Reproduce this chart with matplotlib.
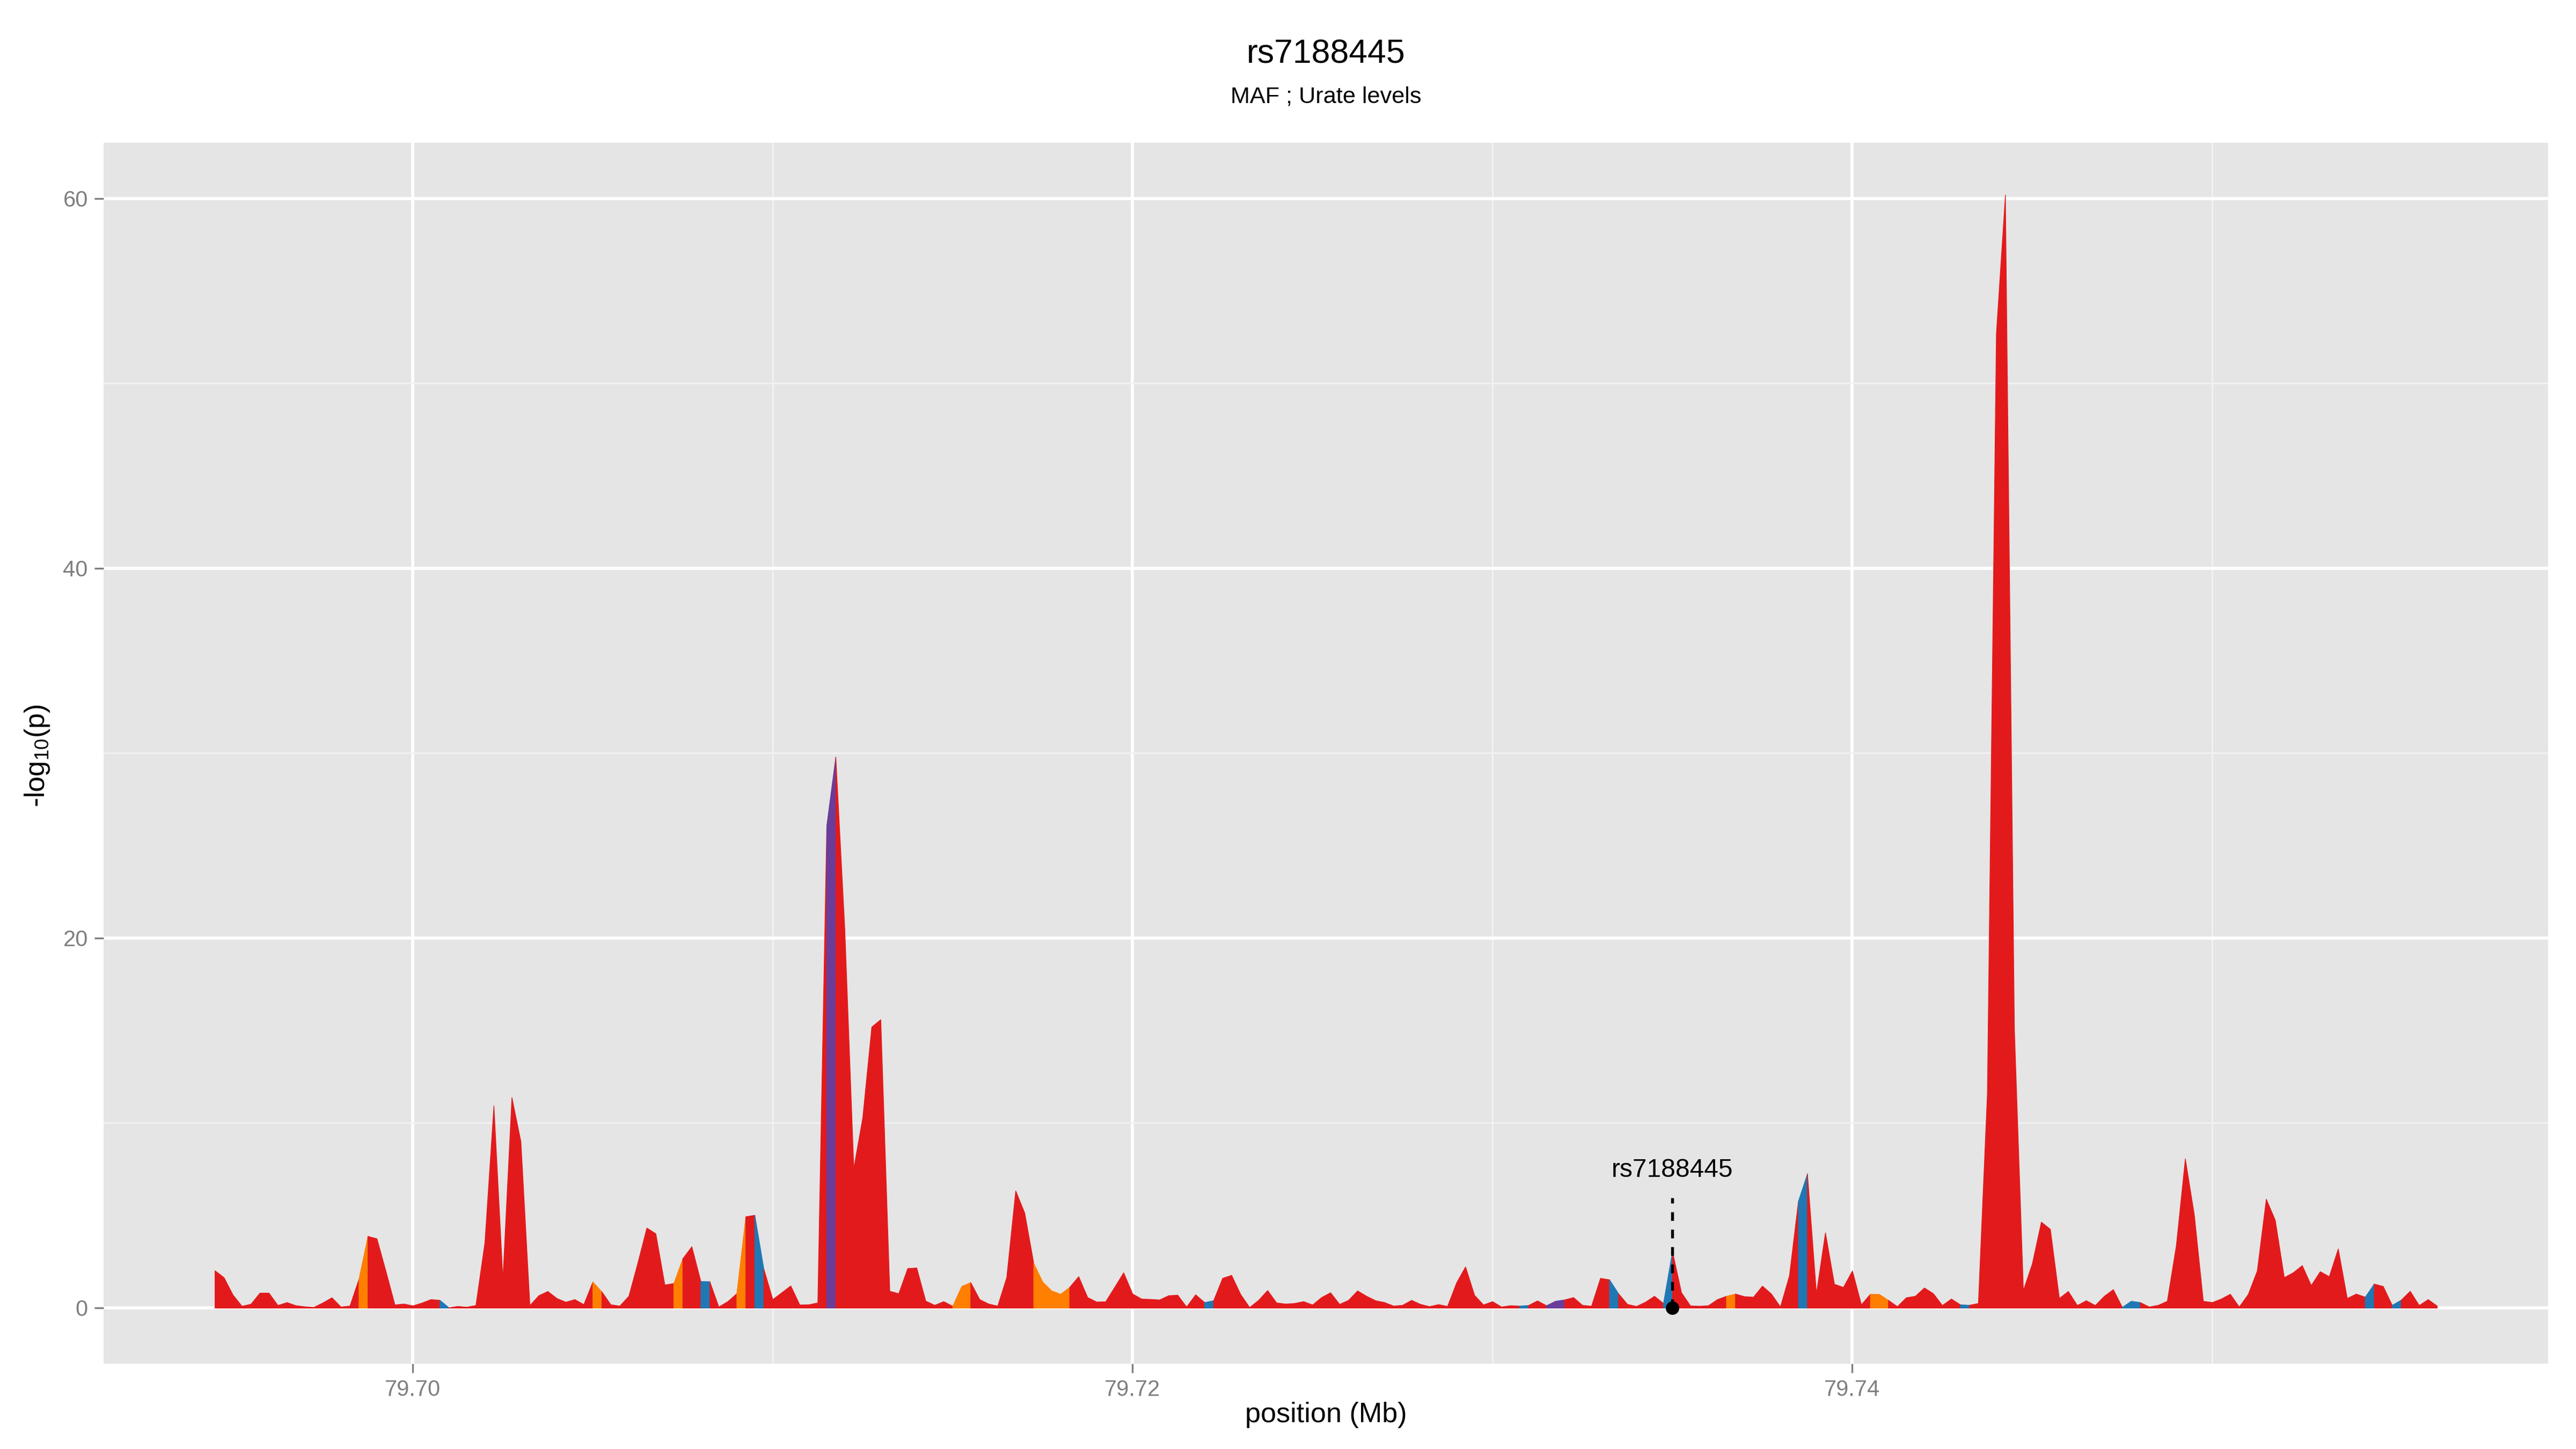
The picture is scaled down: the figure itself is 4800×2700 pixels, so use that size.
import numpy as np
import matplotlib
matplotlib.use("Agg")
import matplotlib.pyplot as plt

plt.rcParams['font.family'] = ['Liberation Sans', 'DejaVu Sans']
plt.rcParams['mathtext.default'] = 'regular'

# positions in bp, one SNP every 250 bp
pos_bp = np.arange(79694500, 79756251, 250)
pos = pos_bp / 1e6

# -log10(p) per SNP
logp = [2.02, 1.65, 0.71, 0.10, 0.21, 0.81, 0.81, 0.14, 0.30, 0.13,
        0.07, 0.04, 0.28, 0.56, 0.06, 0.11, 1.56, 3.88, 3.75, 1.99,
        0.17, 0.22, 0.12, 0.27, 0.46, 0.42, 0.02, 0.09, 0.05, 0.14,
        3.54, 10.94, 1.56, 11.39, 9.00, 0.14, 0.67, 0.90, 0.52, 0.32,
        0.46, 0.19, 1.41, 0.88, 0.18, 0.11, 0.64, 2.43, 4.33, 4.02,
        1.25, 1.33, 2.67, 3.32, 1.44, 1.43, 0.06, 0.35, 0.78, 4.94,
        5.02, 2.12, 0.46, 0.83, 1.20, 0.17, 0.18, 0.28, 26.1, 29.8,
        20.5, 7.55, 10.3, 15.2, 15.6, 0.91, 0.78, 2.14, 2.17, 0.38,
        0.15, 0.35, 0.10, 1.17, 1.38, 0.46, 0.22, 0.11, 1.65, 6.34,
        5.14, 2.43, 1.41, 0.93, 0.75, 1.12, 1.70, 0.57, 0.33, 0.34,
        1.12, 1.91, 0.76, 0.49, 0.47, 0.44, 0.67, 0.70, 0.06, 0.72,
        0.30, 0.40, 1.61, 1.77, 0.74, 0.03, 0.42, 0.95, 0.28, 0.22,
        0.25, 0.35, 0.17, 0.57, 0.83, 0.20, 0.42, 0.93, 0.64, 0.40,
        0.30, 0.11, 0.15, 0.42, 0.20, 0.08, 0.19, 0.09, 1.36, 2.23,
        0.69, 0.17, 0.35, 0.06, 0.13, 0.11, 0.14, 0.39, 0.13, 0.37,
        0.44, 0.57, 0.15, 0.10, 1.61, 1.53, 0.78, 0.20, 0.09, 0.32,
        0.64, 0.25, 3.06, 0.83, 0.12, 0.10, 0.13, 0.46, 0.64, 0.76,
        0.62, 0.59, 1.19, 0.76, 0.06, 1.75, 5.78, 7.26, 0.78, 4.07,
        1.29, 1.12, 2.01, 0.18, 0.75, 0.74, 0.42, 0.08, 0.56, 0.64,
        1.09, 0.78, 0.14, 0.49, 0.18, 0.15, 0.25, 11.6, 52.7, 60.2,
        15.1, 0.95, 2.40, 4.65, 4.26, 0.52, 0.90, 0.14, 0.40, 0.14,
        0.64, 1.00, 0.04, 0.37, 0.30, 0.06, 0.15, 0.37, 3.37, 8.07,
        5.04, 0.37, 0.30, 0.49, 0.75, 0.06, 0.74, 2.01, 5.89, 4.75,
        1.65, 1.91, 2.30, 1.22, 1.97, 1.70, 3.20, 0.52, 0.76, 0.59,
        1.30, 1.17, 0.15, 0.43, 0.91, 0.14, 0.46, 0.11]

# segments (between SNP i and i+1) that are not in the red class
orange_segs = [16, 42, 51, 58, 82, 83, 91, 92, 93, 94, 168, 184, 185]
blue_segs = [25, 54, 60, 110, 145, 155, 161, 176, 194, 212, 213, 239, 242]
purple_segs = [68, 148, 149]

snp_name = "rs7188445"
snp_idx = 162
title = "rs7188445"
subtitle = "MAF ; Urate levels"

RED, ORANGE, BLUE, PURPLE = "#E31A1C", "#FF7F00", "#1F78B4", "#6A3D9A"

y = np.array(logp)
seg_col = [RED] * (len(pos) - 1)
for s in orange_segs:
    seg_col[s] = ORANGE
for s in blue_segs:
    seg_col[s] = BLUE
for s in purple_segs:
    seg_col[s] = PURPLE

fig = plt.figure(figsize=(16, 9), dpi=300)
ax = fig.add_axes([0.0402, 0.0589, 0.9490, 0.8426])
ax.set_facecolor("#E5E5E5")

# draw runs of same colour as one polygon
start = 0
for i in range(1, len(seg_col) + 1):
    if i == len(seg_col) or seg_col[i] != seg_col[start]:
        ax.fill_between(pos[start:i + 1], 0, y[start:i + 1], color=seg_col[start],
                        linewidth=0.3, edgecolor=seg_col[start], zorder=3)
        start = i

# marker for the lead snp
xs = pos[snp_idx]
ax.plot([xs, xs], [0, 5.95], color="black", lw=1.3, ls=(0, (3, 3)), zorder=5)
ax.plot([xs], [0], "o", color="black", ms=5, zorder=6)
ax.text(xs, 7.45, snp_name, ha="center", va="center", fontsize=11.5, zorder=6)

ax.set_xlim(79.69141, 79.75934)
ax.set_ylim(-3.02, 63.02)
ax.set_xticks([79.70, 79.72, 79.74])
ax.set_xticklabels(["79.70", "79.72", "79.74"])
ax.set_xticks([79.71, 79.73, 79.75], minor=True)
ax.set_yticks([0, 20, 40, 60])
ax.set_yticks([10, 30, 50], minor=True)
ax.grid(which="major", color="white", lw=1.4, zorder=0)
ax.grid(which="minor", color="#F2F2F2", lw=0.7, zorder=0)
ax.set_axisbelow(True)
for sp in ax.spines.values():
    sp.set_visible(False)
ax.tick_params(which="major", length=4, width=0.8, color="#7F7F7F",
               labelcolor="#7F7F7F", labelsize=10, pad=3)
ax.tick_params(which="minor", length=0)

cx = 0.0402 + 0.9490 / 2
fig.text(cx, 0.0237, "position (Mb)", ha="center", va="center", fontsize=12.5)
fig.text(0.0145, 0.4785, "-log$_{10}$(p)", ha="center", va="center", rotation=90, fontsize=12.5)
fig.text(cx, 0.9626, title, ha="center", va="center", fontsize=15)
fig.text(cx, 0.933, subtitle, ha="center", va="center", fontsize=10.4)

fig.savefig("out.png", dpi=300)
